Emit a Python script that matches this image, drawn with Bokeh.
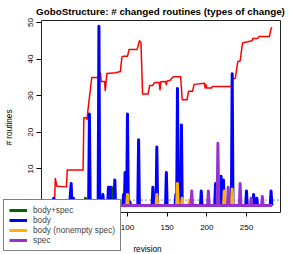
import numpy as np
from bokeh.plotting import figure
from bokeh.models import Range1d, Legend, LegendItem, Label, BoxAnnotation, FixedTicker
from bokeh.embed import file_html
from bokeh.resources import INLINE

# ---------------- data ----------------
revisions = list(range(3, 283))

# red line (total / cumulative) vertices: revision, value
red_x = [3, 8, 9, 11, 23, 24, 44, 45, 48, 49, 50, 55, 62, 64, 66, 67, 71, 72, 74, 85, 91,
         93, 95, 100, 102, 112, 113, 115, 117, 119, 126, 128, 132, 134, 140, 141, 142, 148,
         149, 150, 154, 156, 158, 167, 169, 175, 177, 182, 184, 197, 198, 199, 200, 206, 207,
         231, 232, 236, 239, 242, 245, 257, 258, 264, 266, 279, 281, 282]
red_y = [0, 0, 7.4, 5.3, 5.1, 9.7, 9.7, 24.0, 24.0, 23.5, 25.8, 35.0, 35.0, 35.5, 36.1, 33.9,
         33.9, 31.4, 36.1, 36.3, 36.6, 40.6, 40.8, 40.8, 42.6, 42.6, 43.3, 45.0, 44.5, 30.5,
         30.5, 32.8, 32.8, 33.6, 33.6, 31.6, 33.8, 33.9, 33.0, 34.0, 34.2, 34.8, 35.2, 35.2,
         28.9, 28.9, 31.2, 31.2, 33.1, 33.4, 32.1, 33.0, 32.1, 32.1, 32.5, 32.5, 34.5, 34.8,
         39.3, 39.5, 44.4, 45.0, 45.6, 45.6, 46.2, 46.2, 48.3, 48.7]

# changed routines per revision (only non-zero revisions listed)
body_spec_rev = [47, 80]
body_spec_val = [2, 5]

body_rev = [7, 28, 29, 32, 52, 64, 69, 76, 78, 84, 95, 97, 100, 103, 114, 132, 137, 149,
            161, 163, 168, 193, 211, 218, 221, 230, 232, 250, 259, 263, 281]
body_val = [2, 3, 6, 2, 25, 49, 3, 5, 5, 7, 3, 9, 25, 1, 18, 5, 16, 9,
            3, 32, 22, 4, 6, 8, 7, 2, 36, 4, 3, 2, 4]

nonempty_rev = [100, 137, 163, 169, 178, 222, 232]
nonempty_val = [3, 3, 6, 2, 1.5, 4, 4.5]

spec_rev = [64, 181, 202, 214, 227, 242, 256, 270]
spec_val = [1, 4, 4, 17, 5, 6, 2, 2.5]

dotted_level = 1.5

x_ticks = [0, 50, 100, 150, 200, 250]
y_ticks = [0, 10, 20, 30, 40, 50]

# plot box (axis limits) and page geometry
box_x = (-8.4, 292.9)
box_y = (-1.9, 50.55)
W, H = 294, 254
box_left_px, box_right_px, box_top_px, box_bottom_px = 41, 280, 20, 212


def series(revs, vals):
    arr = np.zeros(len(revisions))
    for r, v in zip(revs, vals):
        arr[r - revisions[0]] = v
    return arr


# ranges spanning the whole canvas so that the box sits where the axes are
kx = (box_x[1] - box_x[0]) / (box_right_px - box_left_px)
ky = (box_y[1] - box_y[0]) / (box_bottom_px - box_top_px)
x_range = Range1d(box_x[0] - box_left_px * kx, box_x[1] + (W - box_right_px) * kx)
y_range = Range1d(box_y[0] - (H - box_bottom_px) * ky, box_y[1] + box_top_px * ky)

FONT = "Liberation Sans"

p = figure(width=W, height=H, x_range=x_range, y_range=y_range,
           output_backend="svg", toolbar_location=None,
           min_border=0, min_border_left=0, min_border_right=0,
           min_border_top=0, min_border_bottom=0)

p.xgrid.visible = False
p.ygrid.visible = False
p.outline_line_color = None
p.background_fill_color = "white"
p.border_fill_color = "white"

p.xaxis.ticker = FixedTicker(ticks=x_ticks)
p.yaxis.ticker = FixedTicker(ticks=y_ticks)
p.xaxis.fixed_location = box_y[0]
p.yaxis.fixed_location = box_x[0]
for ax in (p.xaxis, p.yaxis):
    ax.axis_line_color = None
    ax.major_tick_in = 0
    ax.minor_tick_line_color = None
    ax.major_tick_line_color = "black"
    ax.major_label_text_font = FONT
    ax.major_label_text_font_size = "8px"
    ax.major_label_text_color = "black"
    ax.axis_label_text_font = FONT
    ax.axis_label_text_font_size = "8.2px"
    ax.axis_label_text_font_style = "normal"
    ax.axis_label_text_color = "black"

p.xaxis.major_tick_out = 4
p.xaxis.major_label_standoff = 8
p.xaxis.axis_label = "revision"
p.xaxis.axis_label_standoff = 12

p.yaxis.major_tick_out = 5
p.yaxis.major_label_standoff = 3
p.yaxis.major_label_orientation = "vertical"
p.yaxis.axis_label = "# routines"
p.yaxis.axis_label_standoff = 12

# dotted reference line across the box
p.line(list(box_x), [dotted_level, dotted_level], line_color="blue",
       line_dash="1 3", line_width=1)

p.line(red_x, red_y, line_color="red", line_width=1.5, line_join="round")

r_bs = p.line(revisions, series(body_spec_rev, body_spec_val), line_color="#006400",
              line_width=3, line_join="round")
r_b = p.line(revisions, series(body_rev, body_val), line_color="#0000FF",
             line_width=3, line_join="round")
r_ne = p.line(revisions, series(nonempty_rev, nonempty_val), line_color="#FFB000",
              line_width=3, line_join="round")
r_s = p.line(revisions, series(spec_rev, spec_val), line_color="#9932CC",
             line_width=3, line_join="round")

# plot box
p.add_layout(BoxAnnotation(left=box_x[0], right=box_x[1], bottom=box_y[0], top=box_y[1],
                           fill_alpha=0, fill_color=None, line_color="#222222",
                           line_width=1, line_alpha=1))

legend = Legend(items=[LegendItem(label="body+spec", renderers=[r_bs]),
                       LegendItem(label="body", renderers=[r_b]),
                       LegendItem(label="body (nonempty spec)", renderers=[r_ne]),
                       LegendItem(label="spec", renderers=[r_s])],
                location=(3, 3), margin=0, padding=5, spacing=0,
                glyph_width=18, glyph_height=10, label_height=10, label_standoff=6,
                label_text_font=FONT, label_text_font_size="8.3px",
                border_line_color="black", border_line_width=1,
                background_fill_color="white", background_fill_alpha=1.0)
p.add_layout(legend, "center")

p.add_layout(Label(x=160, y=H - 10.5, x_units="screen", y_units="screen",
                   text="GoboStructure: # changed routines (types of change)",
                   text_align="center", text_baseline="middle",
                   text_font=FONT, text_font_size="9.8px", text_font_style="bold",
                   text_color="black"))

open("out.html", "w").write(file_html(p, INLINE))
